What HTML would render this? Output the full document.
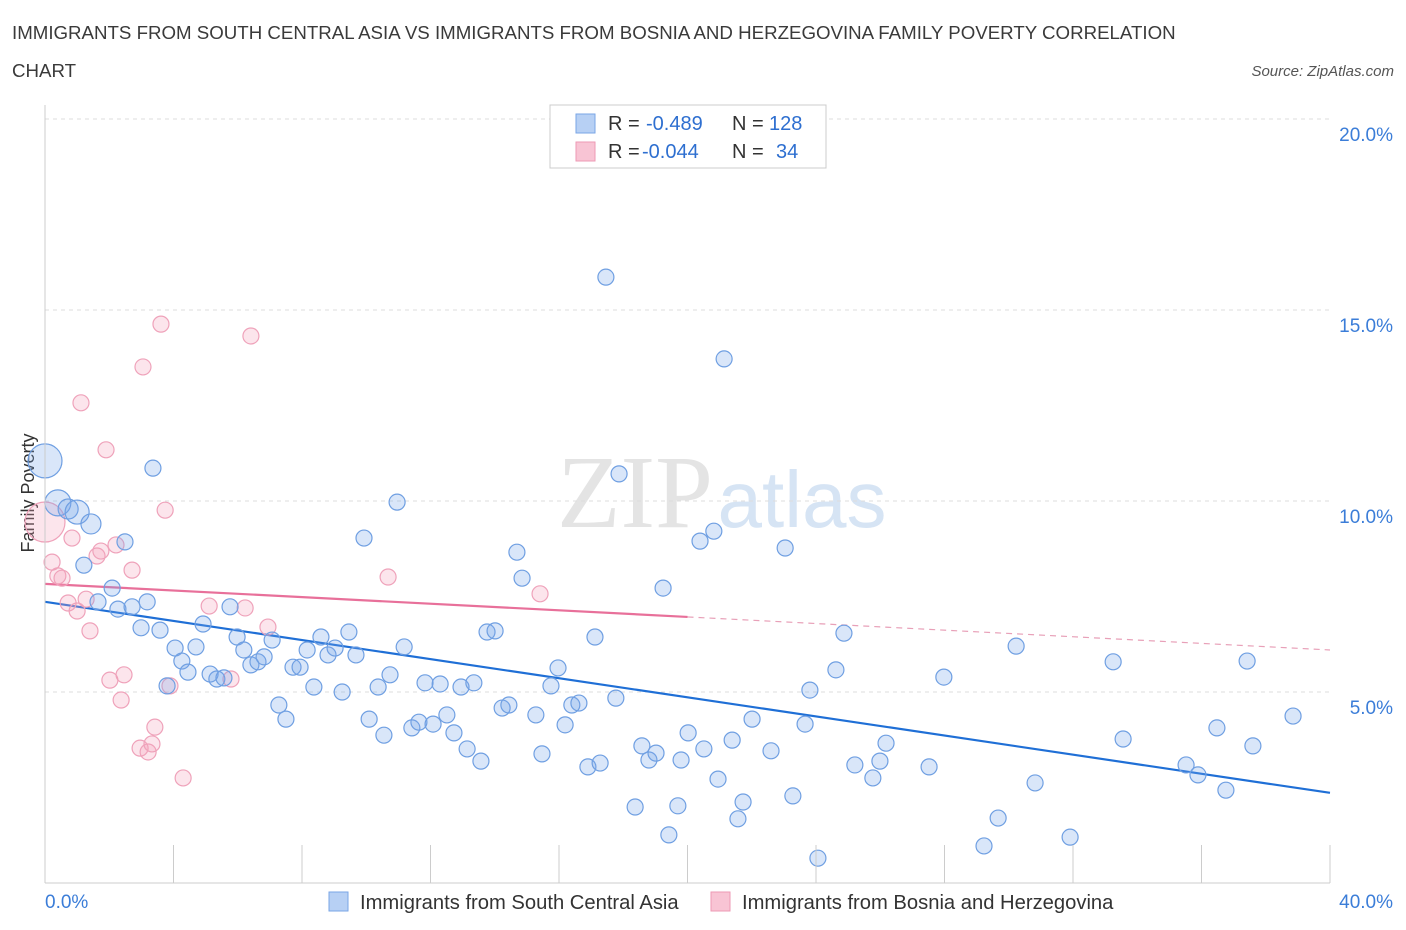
<!DOCTYPE html>
<html><head><meta charset="utf-8"><style>
body{margin:0;background:#fff;font-family:"Liberation Sans",sans-serif;}
#wrap{position:relative;width:1406px;height:930px;overflow:hidden;}
</style></head><body>
<div id="wrap">
<svg id="svg" width="1406" height="930" xmlns="http://www.w3.org/2000/svg">
<text x="12" y="39" font-size="18.7" fill="#3a3a3a">IMMIGRANTS FROM SOUTH CENTRAL ASIA VS IMMIGRANTS FROM BOSNIA AND HERZEGOVINA FAMILY POVERTY CORRELATION</text>
<text x="12" y="77" font-size="18.7" fill="#3a3a3a">CHART</text>
<text x="1394" y="76" font-size="15" fill="#555" font-style="italic" text-anchor="end">Source: ZipAtlas.com</text>
<text x="635" y="527" font-size="104" fill="#e4e4e4" font-family="Liberation Serif,serif" text-anchor="middle">ZIP</text>
<text x="802" y="527" font-size="80" fill="#d6e4f4" text-anchor="middle">atlas</text>
<text transform="translate(34,493) rotate(-90)" font-size="18" fill="#333" text-anchor="middle">Family Poverty</text>
<g id="grid"></g><g id="trend"></g><g id="pts"></g><g id="axes"></g>
<g>
<rect x="550" y="105" width="276" height="63" fill="#fff" stroke="#ccc"/>
<rect x="576" y="114" width="19" height="19" fill="#b7d0f4" stroke="#7aa6e6"/>
<text x="608" y="130" font-size="20" fill="#333">R = </text><text x="646" y="130" font-size="20" fill="#2e6fd0">-0.489</text>
<text x="732" y="130" font-size="20" fill="#333">N = </text><text x="769" y="130" font-size="20" fill="#2e6fd0">128</text>
<rect x="576" y="142" width="19" height="19" fill="#f8c4d4" stroke="#ee9ab4"/>
<text x="608" y="158" font-size="20" fill="#333">R = </text><text x="642" y="158" font-size="20" fill="#2e6fd0">-0.044</text>
<text x="732" y="158" font-size="20" fill="#333">N = </text><text x="776" y="158" font-size="20" fill="#2e6fd0">34</text>
</g>
<g>
<rect x="329" y="892" width="19" height="19" fill="#b7d0f4" stroke="#7aa6e6"/>
<text x="360" y="909" font-size="20.2" fill="#333">Immigrants from South Central Asia</text>
<rect x="711" y="892" width="19" height="19" fill="#f8c4d4" stroke="#ee9ab4"/>
<text x="742" y="909" font-size="20.2" fill="#333">Immigrants from Bosnia and Herzegovina</text>
</g>
</svg></div>
<script>
const blueX=[0,0.40,0.72,1.00,1.43,1.21,1.65,2.09,2.27,2.49,2.71,3.18,2.99,3.36,3.58,3.80,4.05,4.26,4.45,4.70,4.92,5.14,5.35,5.57,5.76,5.98,6.19,6.41,6.63,6.82,7.07,7.28,7.50,7.72,7.94,8.16,8.37,8.59,8.81,9.03,9.25,9.46,9.68,9.93,10.09,10.37,10.55,10.74,10.96,11.18,11.42,11.64,11.83,12.08,12.30,12.51,12.73,12.95,13.14,13.35,13.57,13.76,14.01,14.23,14.44,14.69,14.85,15.28,15.47,15.75,15.97,16.19,16.40,16.62,16.90,17.12,17.28,17.77,17.87,17.46,18.37,18.58,18.80,19.02,19.24,19.42,19.70,19.80,20.02,20.39,20.51,20.82,20.95,21.14,21.39,21.57,21.73,22.01,22.60,23.04,23.28,23.66,23.81,24.06,24.62,24.87,25.21,25.77,25.99,26.18,27.52,27.98,29.23,29.67,30.23,30.82,31.91,33.25,33.56,35.52,35.89,36.48,36.76,37.42,37.60,38.85];
const blueY=[11.05,9.95,9.79,9.71,9.40,8.32,7.36,7.72,7.17,8.93,7.23,7.36,6.68,10.86,6.62,5.16,6.15,5.81,5.52,6.18,6.78,5.47,5.34,5.37,7.23,6.44,6.10,5.71,5.79,5.92,6.36,4.66,4.29,5.65,5.65,6.10,5.13,6.44,5.97,6.15,5.00,6.57,5.97,9.03,4.29,5.13,3.87,5.45,9.97,6.18,4.06,4.21,5.24,4.16,5.21,4.40,3.93,5.13,3.51,5.24,3.19,6.57,6.60,4.58,4.66,8.66,7.98,4.40,3.38,5.16,5.63,4.14,4.66,4.71,3.04,6.44,3.14,4.84,10.71,15.86,1.99,3.59,3.22,3.40,7.72,1.26,2.02,3.22,3.93,8.95,3.51,9.21,2.72,13.72,3.74,1.68,2.12,4.29,3.46,8.77,2.28,4.16,5.05,0.65,5.58,6.54,3.09,2.75,3.19,3.66,3.04,5.39,0.97,1.70,6.20,2.62,1.20,5.79,3.77,3.09,2.83,4.06,2.43,5.81,3.59,4.37];
const pinkX=[0,0.22,0.40,0.53,0.72,0.84,1.00,1.12,1.28,1.40,1.62,1.74,1.90,2.02,2.21,2.37,2.46,2.71,2.96,3.05,3.21,3.33,3.42,3.61,3.74,3.89,4.30,5.11,5.79,6.23,6.41,6.94,10.68,15.41];
const pinkY=[9.45,8.40,8.04,7.98,7.33,9.03,7.12,12.57,7.43,6.60,8.56,8.69,11.34,5.31,8.85,4.79,5.45,8.19,3.53,13.51,3.43,3.64,4.08,14.63,9.76,5.16,2.75,7.25,5.34,7.20,14.32,6.70,8.01,7.57];
const blueTrend=[7.36,2.36];
const pinkTrend=[7.83,6.10];
const yTicks=[5,10,15,20];
const xTickLabels=["0.0%","40.0%"];
const NS="http://www.w3.org/2000/svg";
const X0=45,X1=1330,Y0=883,YT=119;
const sx=v=>X0+v/40*(X1-X0), sy=v=>Y0-v/20*(Y0-YT);
function mk(t,a,p){const e=document.createElementNS(NS,t);for(const k in a)e.setAttribute(k,a[k]);p.appendChild(e);return e;}
const grid=document.getElementById('grid'),axes=document.getElementById('axes'),pts=document.getElementById('pts'),trend=document.getElementById('trend');
yTicks.forEach(v=>{
 const l=mk('line',{x1:X0,x2:X1,y1:sy(v),y2:sy(v),stroke:'#ddd','stroke-dasharray':'4,4'},grid);
 
 
 const t=mk('text',{x:1393,y:sy(v)+22,'font-size':19,fill:'#3b7dd8','text-anchor':'end'},axes);
 t.textContent=v.toFixed(1)+'%';
 
 
});
const ax=mk('line',{x1:X0,x2:X0,y1:105,y2:Y0,stroke:'#ccc'},axes);


const bx=mk('line',{x1:X0,x2:X1,y1:Y0,y2:Y0,stroke:'#ccc'},axes);


for(let i=0;i<=10;i++){const tk=mk('line',{x1:sx(i*4),x2:sx(i*4),y1:Y0-38,y2:Y0,stroke:'#ccc'},axes);
 
 }
[[xTickLabels[0],45,'start'],[xTickLabels[1],1393,'end']].forEach(([s,x,a])=>{
 const t=mk('text',{x:x,y:908,'font-size':19,fill:'#3b7dd8','text-anchor':a},axes);t.textContent=s;
 
 });
function dot(x,y,r,fill,stroke,name){const c=mk('circle',{cx:sx(x),cy:sy(y),r:r,fill:fill,stroke:stroke,'stroke-width':1.2},pts);
 
 }
const bigBlue={0:17,1:13,2:10,3:12,4:10}, bigPink={0:20};
pinkX.forEach((x,i)=>dot(x,pinkY[i],bigPink[i]||8,'rgba(244,160,188,0.28)','#efa2ba','pink-point'));
blueX.forEach((x,i)=>dot(x,blueY[i],bigBlue[i]||8,'rgba(120,165,235,0.28)','#6f9fe2','blue-point'));
let l=mk('line',{x1:sx(0),y1:sy(blueTrend[0]),x2:sx(40),y2:sy(blueTrend[1]),stroke:'#1f6fd6','stroke-width':2.2},trend);


const pm=pinkTrend[0]+(pinkTrend[1]-pinkTrend[0])*0.5;
l=mk('line',{x1:sx(0),y1:sy(pinkTrend[0]),x2:sx(20),y2:sy(pm),stroke:'#e8709a','stroke-width':2.2},trend);


l=mk('line',{x1:sx(20),y1:sy(pm),x2:sx(40),y2:sy(pinkTrend[1]),stroke:'#e8a0b8','stroke-width':1.2,'stroke-dasharray':'6,5'},trend);


</script></body></html>
